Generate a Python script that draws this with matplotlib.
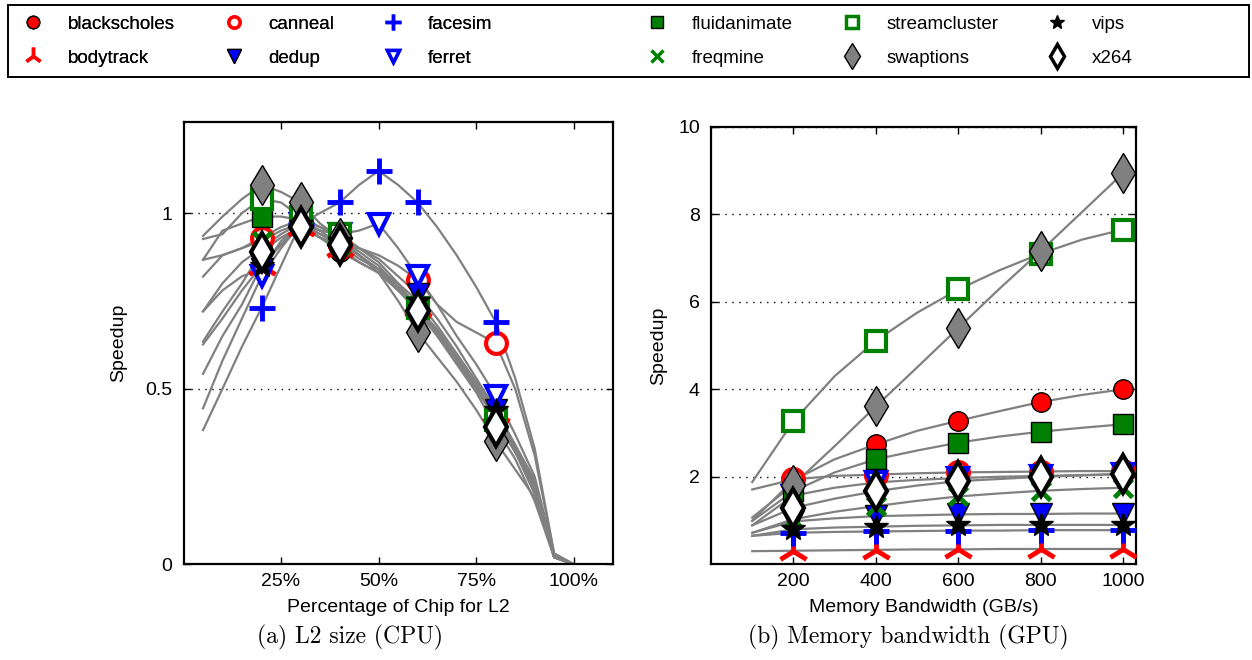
import matplotlib
matplotlib.use("Agg")
import matplotlib.pyplot as plt
from matplotlib.lines import Line2D
from matplotlib.patches import Rectangle

plt.rcParams['font.family'] = ['Liberation Sans', 'DejaVu Sans']

benchmarks = ["blackscholes", "bodytrack", "canneal", "dedup", "facesim", "ferret",
              "fluidanimate", "freqmine", "streamcluster", "swaptions", "vips", "x264"]

# ---- (a) L2 size sweep on the CPU: share of chip area given to L2 (%) ----
l2_share = [5, 10, 15, 20, 25, 30, 35, 40, 45, 50, 55, 60, 65, 70, 75, 80, 85, 90, 95, 100]
cpu_speedup = {
    "blackscholes":  [0.72, 0.80, 0.86, 0.90, 0.94, 0.97, 0.93, 0.89, 0.86, 0.83, 0.78, 0.73, 0.66, 0.58, 0.50, 0.43, 0.33, 0.22, 0.02, 0.0],
    "bodytrack":     [0.626, 0.70, 0.78, 0.85, 0.91, 0.96, 0.93, 0.90, 0.86, 0.83, 0.78, 0.73, 0.66, 0.59, 0.51, 0.43, 0.33, 0.21, 0.02, 0.0],
    "canneal":       [0.819, 0.88, 0.90, 0.93, 0.96, 0.98, 0.95, 0.91, 0.90, 0.88, 0.85, 0.81, 0.74, 0.69, 0.66, 0.63, 0.50, 0.31, 0.03, 0.0],
    "dedup":         [0.72, 0.78, 0.82, 0.84, 0.92, 0.97, 0.95, 0.94, 0.90, 0.87, 0.82, 0.77, 0.70, 0.62, 0.53, 0.44, 0.34, 0.24, 0.02, 0.0],
    "facesim":       [0.382, 0.50, 0.62, 0.73, 0.85, 0.97, 1.00, 1.03, 1.08, 1.12, 1.08, 1.03, 0.96, 0.88, 0.79, 0.69, 0.53, 0.33, 0.03, 0.0],
    "ferret":        [0.444, 0.58, 0.70, 0.82, 0.90, 0.97, 0.95, 0.94, 0.95, 0.97, 0.90, 0.82, 0.74, 0.65, 0.57, 0.48, 0.37, 0.25, 0.03, 0.0],
    "fluidanimate":  [0.867, 0.95, 0.97, 0.99, 0.99, 0.98, 0.96, 0.93, 0.89, 0.85, 0.79, 0.73, 0.67, 0.59, 0.51, 0.41, 0.32, 0.23, 0.02, 0.0],
    "freqmine":      [0.867, 0.88, 0.90, 0.92, 0.95, 0.97, 0.94, 0.91, 0.88, 0.84, 0.79, 0.73, 0.66, 0.58, 0.50, 0.42, 0.32, 0.20, 0.02, 0.0],
    "streamcluster": [0.926, 0.94, 1.00, 1.04, 1.03, 0.99, 0.96, 0.94, 0.90, 0.86, 0.80, 0.73, 0.66, 0.58, 0.50, 0.41, 0.32, 0.22, 0.03, 0.0],
    "swaptions":     [0.935, 0.99, 1.04, 1.08, 1.06, 1.03, 0.97, 0.93, 0.88, 0.83, 0.75, 0.66, 0.59, 0.52, 0.44, 0.35, 0.27, 0.19, 0.02, 0.0],
    "vips":          [0.542, 0.65, 0.74, 0.85, 0.91, 0.97, 0.94, 0.92, 0.88, 0.84, 0.80, 0.75, 0.68, 0.60, 0.52, 0.44, 0.34, 0.23, 0.02, 0.0],
    "x264":          [0.634, 0.72, 0.80, 0.89, 0.93, 0.96, 0.93, 0.91, 0.87, 0.84, 0.78, 0.72, 0.65, 0.57, 0.49, 0.39, 0.30, 0.18, 0.02, 0.0],
}
# configurations that get a symbol on top of the curve
cpu_marked = {b: [20, 30, 40, 60, 80] for b in benchmarks}
cpu_marked["facesim"] = [20, 30, 40, 50, 60, 80]
cpu_marked["ferret"] = [20, 30, 40, 50, 60, 80]

# ---- (b) memory bandwidth sweep on the GPU (GB/s) ----
bandwidth = [100, 200, 300, 400, 500, 600, 700, 800, 900, 1000]
gpu_speedup = {
    "blackscholes":  [1.00, 1.92, 2.40, 2.74, 3.05, 3.28, 3.50, 3.71, 3.87, 4.00],
    "bodytrack":     [0.30, 0.31, 0.32, 0.33, 0.34, 0.34, 0.35, 0.35, 0.35, 0.35],
    "canneal":       [1.71, 1.94, 2.02, 2.05, 2.08, 2.10, 2.11, 2.12, 2.13, 2.13],
    "dedup":         [0.72, 0.98, 1.05, 1.10, 1.12, 1.14, 1.15, 1.15, 1.16, 1.16],
    "facesim":       [0.65, 0.72, 0.74, 0.75, 0.76, 0.77, 0.77, 0.78, 0.78, 0.78],
    "ferret":        [0.89, 1.57, 1.75, 1.87, 1.93, 1.97, 2.00, 2.02, 2.04, 2.06],
    "fluidanimate":  [0.99, 1.67, 2.10, 2.40, 2.60, 2.78, 2.92, 3.03, 3.12, 3.20],
    "freqmine":      [0.72, 1.03, 1.20, 1.33, 1.45, 1.55, 1.62, 1.68, 1.72, 1.75],
    "streamcluster": [1.88, 3.27, 4.30, 5.11, 5.75, 6.28, 6.72, 7.10, 7.42, 7.65],
    "swaptions":     [1.07, 1.82, 2.70, 3.61, 4.50, 5.40, 6.30, 7.16, 8.05, 8.94],
    "vips":          [0.65, 0.80, 0.84, 0.86, 0.88, 0.89, 0.90, 0.90, 0.90, 0.90],
    "x264":          [0.89, 1.29, 1.50, 1.67, 1.80, 1.90, 1.95, 2.00, 2.03, 2.07],
}
gpu_marked = [200, 400, 600, 800, 1000]

RED, BLUE, GREEN, GREY = "#ff0000", "#0000ff", "#008000", "#808080"
style = {
    "blackscholes":  dict(marker="o", ms=14, mfc=RED, mec="black", mew=1.0),
    "bodytrack":     dict(marker="2", ms=24, mfc=RED, mec=RED, mew=3.5),
    "canneal":       dict(marker="o", ms=15, mfc="white", mec=RED, mew=3.0),
    "dedup":         dict(marker="v", ms=16, mfc=BLUE, mec="black", mew=1.0),
    "facesim":       dict(marker="+", ms=19, mfc=BLUE, mec=BLUE, mew=3.5),
    "ferret":        dict(marker="v", ms=14, mfc="white", mec=BLUE, mew=3.0),
    "fluidanimate":  dict(marker="s", ms=15, mfc=GREEN, mec="black", mew=1.0),
    "freqmine":      dict(marker="x", ms=13, mfc=GREEN, mec=GREEN, mew=3.5),
    "streamcluster": dict(marker="s", ms=14, mfc="white", mec=GREEN, mew=3.0),
    "swaptions":     dict(marker="d", ms=20, mfc=GREY, mec="black", mew=1.0),
    "vips":          dict(marker="*", ms=18, mfc="black", mec="black", mew=1.0),
    "x264":          dict(marker="d", ms=19, mfc="white", mec="black", mew=3.0),
}
legend_style = {
    "blackscholes":  dict(ms=9, mew=1.0),
    "bodytrack":     dict(ms=13, mew=2.5),
    "canneal":       dict(ms=8, mew=2.5),
    "dedup":         dict(ms=10, mew=1.0),
    "facesim":       dict(ms=11, mew=2.5),
    "ferret":        dict(ms=9, mew=2.5),
    "fluidanimate":  dict(ms=9, mew=1.0),
    "freqmine":      dict(ms=8, mew=2.5),
    "streamcluster": dict(ms=8, mew=2.5),
    "swaptions":     dict(ms=13, mew=1.0),
    "vips":          dict(ms=10, mew=1.0),
    "x264":          dict(ms=12, mew=2.5),
}

W, H = 1252, 660
fig = plt.figure(figsize=(W / 100, H / 100), dpi=100)
ax1 = fig.add_axes([183.5 / W, 95.7 / H, 429.2 / W, 442.6 / H])
ax2 = fig.add_axes([711 / W, 95.7 / H, 425 / W, 437.6 / H])

LINE_KW = dict(color="#808080", lw=1.6, zorder=2)
FS = 14


def style_axes(ax):
    for s in ax.spines.values():
        s.set_linewidth(1.6)
        s.set_color("black")
    ax.tick_params(direction="in", length=5, width=1, top=True, right=True,
                   labelsize=FS, colors="black")
    ax.tick_params(axis="x", pad=6)
    ax.tick_params(axis="y", pad=8)
    ax.yaxis.grid(True, color="black", linestyle=(0, (1, 4)), lw=1)
    ax.set_axisbelow(True)


# (a) CPU
for b in benchmarks:
    ax1.plot(l2_share, cpu_speedup[b], **LINE_KW)
for z, b in enumerate(benchmarks):
    xs = cpu_marked[b]
    ys = [cpu_speedup[b][l2_share.index(x)] for x in xs]
    ax1.plot(xs, ys, ls="none", zorder=3 + z * 0.01, **style[b])
ax1.set_xlim(0, 110)
ax1.set_ylim(0, 1.26)
ax1.set_xticks([25, 50, 75, 100])
ax1.set_xticklabels(["25%", "50%", "75%", "100%"])
ax1.set_yticks([0, 0.5, 1])
ax1.set_yticklabels(["0", "0.5", "1"])
style_axes(ax1)
ax1.set_xlabel("Percentage of Chip for L2", fontsize=FS, labelpad=7)
ax1.set_ylabel("Speedup", fontsize=FS, labelpad=13)

# (b) GPU
for b in benchmarks:
    ax2.plot(bandwidth, gpu_speedup[b], **LINE_KW)
for z, b in enumerate(benchmarks):
    ys = [gpu_speedup[b][bandwidth.index(x)] for x in gpu_marked]
    ax2.plot(gpu_marked, ys, ls="none", zorder=3 + z * 0.01, **style[b])
ax2.set_xlim(0, 1031)
ax2.set_ylim(0, 10)
ax2.set_xticks([200, 400, 600, 800, 1000])
ax2.set_yticks([2, 4, 6, 8, 10])
style_axes(ax2)
ax2.set_xlabel("Memory Bandwidth (GB/s)", fontsize=FS, labelpad=7)
ax2.set_ylabel("Speedup", fontsize=FS, labelpad=8)

# captions under each panel
fig.text(350 / W, 1 - 637 / H, "(a) L2 size (CPU)", family="cmr10", fontsize=17,
         ha="center", va="center")
fig.text(908 / W, 1 - 637 / H, "(b) Memory bandwidth (GPU)", family="cmr10", fontsize=17,
         ha="center", va="center")

# shared key across the top
handles = []
for b in benchmarks:
    st = dict(style[b])
    st.update(legend_style[b])
    handles.append(Line2D([], [], ls="none", **st))

leg_kw = dict(ncol=3, loc="center left", frameon=False, fontsize=13.5,
              handlelength=1.0, handletextpad=1.35, columnspacing=2.62,
              borderpad=0, borderaxespad=0, labelspacing=0.9)
leg1 = fig.legend(handles[:6], benchmarks[:6], bbox_to_anchor=(24 / W, 1 - 41 / H), **leg_kw)
fig.add_artist(leg1)
fig.legend(handles[6:], benchmarks[6:], bbox_to_anchor=(648 / W, 1 - 41 / H), **leg_kw)
fig.add_artist(Rectangle((8 / W, 1 - 77 / H), 1241 / W, 72 / H, transform=fig.transFigure,
                         fill=False, lw=1.4, edgecolor="black"))

fig.savefig("out.png", dpi=100)
